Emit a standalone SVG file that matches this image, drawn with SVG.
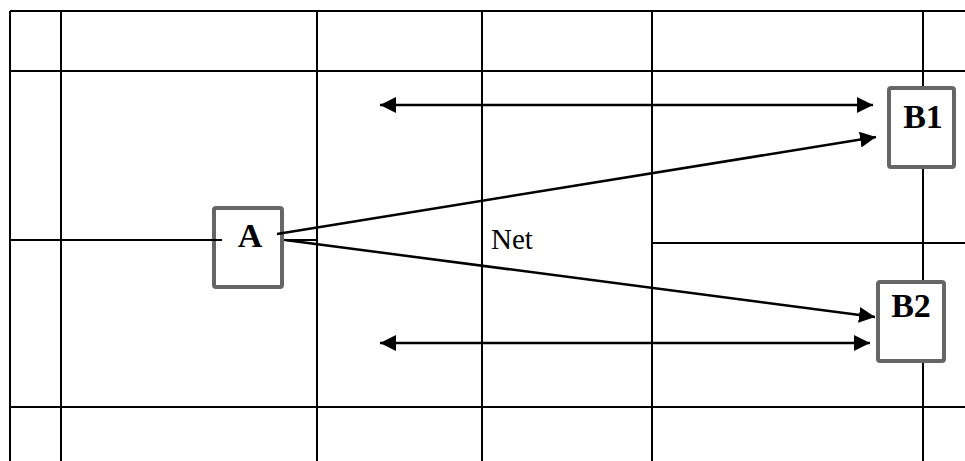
<svg xmlns="http://www.w3.org/2000/svg" width="965" height="461" viewBox="0 0 965 461">
<style>
.g{stroke:#000;stroke-width:2;fill:none}
.box{fill:#fff;stroke:#666;stroke-width:4}
.lbl{font-family:"Liberation Serif","Times New Roman",serif;font-weight:bold;font-size:34px;fill:#000;text-anchor:middle}
.net{font-family:"Liberation Serif","Times New Roman",serif;font-size:29px;fill:#000}
.c{stroke:#000;stroke-width:2.5;fill:none}
</style>
<defs>
<marker id="ah" markerUnits="userSpaceOnUse" markerWidth="16" markerHeight="16" refX="15" refY="7.5" orient="auto-start-reverse" viewBox="0 0 15 15">
<path d="M0,0 L15,7.5 L0,15 z" fill="#000"/>
</marker>
</defs>
<rect width="965" height="461" fill="#fff"/>
<g id="grid" class="g">
<line x1="10" y1="11" x2="965" y2="11"/>
<line x1="10" y1="71" x2="965" y2="71"/>
<line x1="10" y1="407" x2="965" y2="407"/>
<line x1="652" y1="243" x2="965" y2="243"/>
<line x1="10" y1="240" x2="317" y2="240"/>
<line x1="10" y1="11" x2="10" y2="461"/>
<line x1="61" y1="11" x2="61" y2="461"/>
<line x1="317" y1="11" x2="317" y2="461"/>
<line x1="482" y1="11" x2="482" y2="461"/>
<line x1="652" y1="11" x2="652" y2="461"/>
<line x1="923" y1="11" x2="923" y2="461"/>
</g>
<g id="A">
<rect class="box" x="214" y="208" width="68" height="79" rx="2"/>
<line class="g" x1="212" y1="240" x2="222" y2="240"/>
<text class="lbl" x="250" y="247">A</text>
</g>
<g id="B1">
<rect class="box" x="889" y="88" width="65" height="79" rx="2"/>
<text class="lbl" x="923" y="128">B1</text>
</g>
<g id="B2">
<rect class="box" x="878" y="282" width="66" height="79" rx="2"/>
<text class="lbl" x="911" y="317">B2</text>
</g>
<g id="connectors">
<line class="c" x1="277" y1="234" x2="876" y2="137" marker-end="url(#ah)"/>
<line class="c" x1="285" y1="240" x2="875" y2="317" marker-end="url(#ah)"/>
<line class="c" x1="380" y1="105" x2="873" y2="105" marker-start="url(#ah)" marker-end="url(#ah)"/>
<line class="c" x1="380" y1="343" x2="870" y2="343" marker-start="url(#ah)" marker-end="url(#ah)"/>
</g>
<text class="net" x="491" y="249">Net</text>
</svg>
